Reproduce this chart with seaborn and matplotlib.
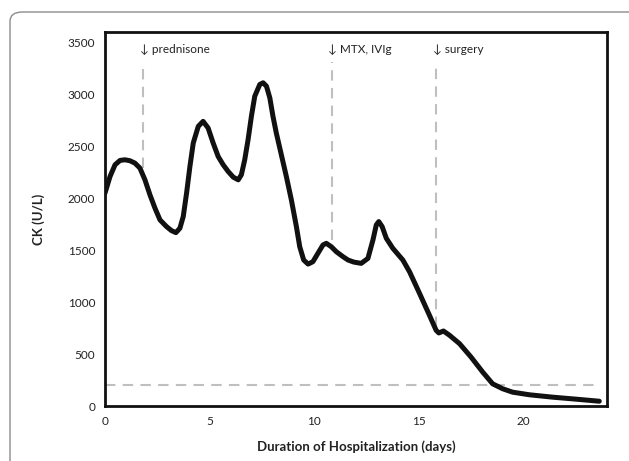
import matplotlib
matplotlib.use("Agg")
import matplotlib.pyplot as plt
import seaborn as sns
import pandas as pd
from matplotlib.patches import FancyBboxPatch

# ---- data ----
days = [0.0, 0.24, 0.48, 0.72, 0.95, 1.19, 1.43, 1.67, 1.91, 2.15, 2.39, 2.63, 2.94,
        3.18, 3.39, 3.58, 3.74, 3.90, 4.06, 4.22, 4.46, 4.69, 4.93, 5.17, 5.41, 5.65,
        5.89, 6.13, 6.37, 6.52, 6.68, 6.84, 7.00, 7.16, 7.40, 7.56, 7.72, 7.88, 8.03,
        8.19, 8.43, 8.67, 8.91, 9.15, 9.31, 9.50, 9.71, 9.94, 10.18, 10.42, 10.58,
        10.82, 11.06, 11.38, 11.62, 11.9, 12.25, 12.57, 12.81, 12.97, 13.09, 13.25,
        13.45, 13.76, 14.24, 14.56, 15.04, 15.51, 15.83, 15.96, 16.18, 16.47, 16.95,
        17.5, 18.06, 18.53, 19.01, 19.49, 20.29, 21.4, 22.51, 23.63]
ck = [2050, 2209, 2322, 2364, 2370, 2361, 2338, 2290, 2177, 2032, 1904, 1791, 1727,
      1688, 1669, 1711, 1823, 2049, 2306, 2532, 2692, 2740, 2676, 2532, 2402, 2322,
      2257, 2203, 2177, 2226, 2370, 2563, 2789, 2982, 3095, 3111, 3078, 2966, 2789,
      2628, 2419, 2209, 1984, 1727, 1533, 1405, 1366, 1389, 1470, 1550, 1566,
      1533, 1485, 1437, 1405, 1385, 1373, 1421, 1598, 1743, 1775, 1727,
      1614, 1518, 1405, 1292, 1083, 874, 729, 703, 722, 681, 600,
      471, 326, 214, 166, 133, 108, 85, 66, 46]

event_labels = ["\u2193 prednisone", "\u2193 MTX, IVIg", "\u2193 surgery"]
event_days = [1.83, 10.85, 15.83]
event_ck = [2290, 1600, 760]
reference_ck = 200

x_ticks = [0, 5, 10, 15, 20]
y_ticks = [0, 500, 1000, 1500, 2000, 2500, 3000, 3500]

sns.set_style("white")
plt.rcParams["font.family"] = ["Lato", "DejaVu Sans"]

fig = plt.figure(figsize=(6.29, 4.61), dpi=100)
ax = fig.add_axes([105/629, 1-406/461, (607-105)/629, (406-32)/461])

# outer rounded frame of the figure panel
box = FancyBboxPatch((10/629, -0.2), 1.2, 1.2 - 12/461 + 0.0, transform=fig.transFigure,
                     boxstyle="round,pad=0,rounding_size=0.02", fill=False,
                     edgecolor="#8c8c8c", linewidth=1.0, clip_on=False)
fig.patches.append(box)

dash_kw = dict(color="#bfbfbf", linewidth=1.5, dashes=(5, 3.5))
ax.plot([0, 23.6], [reference_ck, reference_ck], zorder=1, **dash_kw)
for lab, d, v in zip(event_labels, event_days, event_ck):
    ax.plot([d, d], [v, 3310], zorder=1, **dash_kw)
    ax.text(d - 0.17, 3430, lab, fontsize=8.5, color="#222222", va="center", ha="left",
            family=["Lato", "DejaVu Sans"])

df = pd.DataFrame({"day": days, "ck": ck})
sns.lineplot(data=df, x="day", y="ck", ax=ax, color="#111111", linewidth=3.6,
             sort=False, zorder=3)
ax.lines[-1].set_solid_joinstyle("round")
ax.lines[-1].set_solid_capstyle("round")

ax.set_xlim(0, 24)
ax.set_ylim(0, 3600)
ax.set_xticks(x_ticks)
ax.set_yticks(y_ticks)
ax.tick_params(axis="both", labelsize=8.5, labelcolor="#222222", color="#111111",
               direction="out", length=3, width=1.5, pad=4)
for s in ax.spines.values():
    s.set_visible(True)
    s.set_color("#111111")
    s.set_linewidth(2.0)

ax.set_xlabel("Duration of Hospitalization (days)", fontsize=9.5, fontweight="bold",
              color="#222222")
ax.set_ylabel("CK (U/L)", fontsize=9.5, fontweight="bold", color="#222222")
ax.xaxis.set_label_coords(0.5, -(440-406)/374)
ax.yaxis.set_label_coords(-(105-45)/502, 0.5)
ax.grid(False)

fig.savefig("out.png", dpi=100)
